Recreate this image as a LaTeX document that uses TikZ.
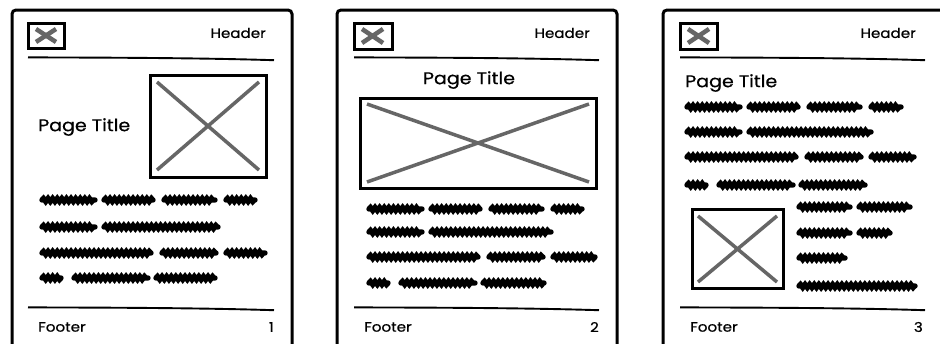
\documentclass[tikz,border=0pt]{standalone}
\usepackage{fontspec}
\setmainfont[FakeStretch=1.12, FakeBold=0.6]{Poppins}
\usetikzlibrary{decorations.pathmorphing}
\definecolor{xgray}{HTML}{666666}
\tikzset{
  frame/.style={line width=3pt, rounded corners=4pt},
  imgbox/.style={line width=3pt},
  xline/.style={xgray, line width=3.5pt},
  icx/.style={xgray, line width=4.5pt},
  scrib/.style={line width=5.4pt, line cap=round, decorate, decoration={snake, segment length=4.6pt, amplitude=1.5pt}},
  hline/.style={line width=1.9pt},
  lbl/.style={inner sep=0pt, font=\fontsize{13.5}{15}\selectfont},
  ttl/.style={inner sep=0pt, font=\fontsize{17}{19}\selectfont},
}
\newcommand{\handline}[3]{%
  \draw[hline] (#1,#3-0.6) .. controls (#1+90,#3-0.4) and (#2-70,#3) .. (#2,#3+2.2);}
\newcommand{\scr}[3]{\draw[scrib] (#1+2,#3) -- (#2-2,#3);}
\begin{document}
\begin{tikzpicture}[x=1pt,y=-1pt]
\useasboundingbox (0,0) rectangle (940,343);
\clip (0,0) rectangle (940,343);
\fill[white] (0,0) rectangle (940,343);

% ---------- Page 1 ----------
\draw[frame] (12,365) -- (12,10) -- (292,10) -- (292,365);
\draw[imgbox] (28,23) rectangle (64,48);
\draw[icx] (36,29) -- (56,42); \draw[icx] (36,42) -- (56,29);
\node[lbl, anchor=east] (h1) at (266,33) {Header};
\handline{28}{274}{58}
\draw[imgbox] (150,75) rectangle (266,177);
\draw[xline] (157,82) -- (259,170); \draw[xline] (157,170) -- (259,82);
\node[ttl, anchor=west] (t1) at (38,127) {Page Title};
\scr{40}{97}{200}\scr{102}{155}{200}\scr{162}{217}{200}\scr{224}{257}{200}
\scr{40}{97}{227}\scr{102}{220}{227}
\scr{40}{153}{253}\scr{160}{218}{253}\scr{224}{267}{253}
\scr{40}{63}{278}\scr{72}{150}{278}\scr{154}{217}{278}
\handline{28}{274}{308}
\node[lbl, anchor=west] (f1) at (38,327) {Footer};
\node[lbl, anchor=east] (n1) at (274,327) {1};

% ---------- Page 2 ----------
\draw[frame] (337,365) -- (337,10) -- (617,10) -- (617,365);
\draw[imgbox] (354,23) rectangle (392,49);
\draw[icx] (362,29) -- (383,43); \draw[icx] (362,43) -- (383,29);
\node[lbl, anchor=east] (h2) at (590,33) {Header};
\handline{354}{599}{58}
\node[ttl] (t2) at (469,80) {Page Title};
\draw[imgbox] (360,98) rectangle (596,188);
\draw[xline] (367,104) -- (589,182); \draw[xline] (367,182) -- (589,104);
\scr{367}{424}{209}\scr{429}{482}{209}\scr{489}{544}{209}\scr{551}{584}{209}
\scr{367}{424}{232}\scr{429}{553}{232}
\scr{367}{480}{257}\scr{487}{545}{257}\scr{551}{597}{257}
\scr{367}{390}{283}\scr{399}{477}{283}\scr{481}{546}{283}
\handline{354}{599}{308}
\node[lbl, anchor=west] (f2) at (364,327) {Footer};
\node[lbl, anchor=east] (n2) at (599,327) {2};

% ---------- Page 3 ----------
\draw[frame] (663,365) -- (663,10) -- (960,10) -- (960,365);
\draw[imgbox] (680,23) rectangle (717,49);
\draw[icx] (688,29) -- (709,43); \draw[icx] (688,43) -- (709,29);
\node[lbl, anchor=east] (h3) at (916,33) {Header};
\handline{680}{925}{58}
\node[ttl, anchor=west] (t3) at (685,83) {Page Title};
\scr{685}{742}{107}\scr{747}{800}{107}\scr{807}{862}{107}\scr{869}{903}{107}
\scr{685}{742}{132}\scr{747}{873}{132}
\scr{685}{798}{157}\scr{805}{863}{157}\scr{869}{916}{157}
\scr{685}{708}{185}\scr{717}{795}{185}\scr{799}{867}{185}
\draw[imgbox] (692,209) rectangle (783,288);
\draw[xline] (698,216) -- (777,282); \draw[xline] (698,282) -- (777,216);
\scr{797}{852}{207}\scr{857}{912}{207}
\scr{797}{852}{233}\scr{857}{892}{233}
\scr{797}{847}{258}
\scr{797}{917}{286}
\handline{680}{925}{308}
\node[lbl, anchor=west] (f3) at (690,327) {Footer};
\node[lbl, anchor=east] (n3) at (923,327) {3};
\end{tikzpicture}
\end{document}
